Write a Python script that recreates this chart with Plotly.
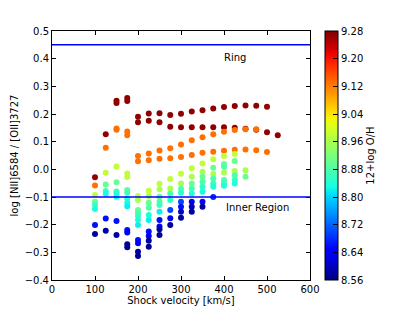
import numpy as np
import plotly.graph_objects as go

# ---- data: (shock velocity, log ratio, 12+log O/H) ----
velocity = (
    [100]*8 + [125]*8 + [150]*11 + [175]*15 + [200]*15 + [225]*14 + [250]*14 +
    [275]*11 + [300]*12 + [325]*12 + [350]*12 + [375]*11 + [400]*11 + [425]*10 +
    [450]*6 + [475]*4 + [500]*3 + [525]*1
)
log_ratio = [
    -0.029, -0.058, -0.093, -0.117, -0.129, -0.143, -0.201, -0.234,
    0.127, 0.078, -0.012, -0.055, -0.078, -0.088, -0.178, -0.222,
    0.248, 0.240, 0.148, 0.143, 0.010, -0.047, -0.080, -0.087, -0.099, -0.187, -0.237,
    0.258, 0.247, 0.137, 0.123, -0.015, -0.028, -0.075, -0.085, -0.105, -0.121, -0.133, -0.219, -0.228, -0.271, -0.282,
    0.190, 0.170, 0.048, 0.029, -0.096, -0.111, -0.147, -0.157, -0.169, -0.183, -0.201, -0.255, -0.267, -0.298, -0.313,
    0.202, 0.176, 0.057, 0.033, -0.077, -0.096, -0.121, -0.139, -0.165, -0.183, -0.225, -0.241, -0.258, -0.280,
    0.203, 0.170, 0.068, 0.038, -0.052, -0.072, -0.099, -0.117, -0.129, -0.153, -0.183, -0.207, -0.217, -0.237,
    0.196, 0.154, 0.076, 0.040, -0.035, -0.069, -0.087, -0.111, -0.147, -0.177, -0.201,
    0.201, 0.152, 0.090, 0.045, -0.016, -0.051, -0.070, -0.085, -0.117, -0.135, -0.153, -0.175,
    0.209, 0.152, 0.105, 0.052, 0.004, -0.027, -0.051, -0.069, -0.087, -0.117, -0.135, -0.153,
    0.214, 0.152, 0.116, 0.060, 0.021, -0.009, -0.027, -0.045, -0.063, -0.081, -0.117, -0.135,
    0.220, 0.152, 0.127, 0.064, 0.036, 0.006, -0.017, -0.033, -0.051, -0.063, -0.100,
    0.225, 0.152, 0.136, 0.067, 0.048, 0.019, 0.009, -0.011, -0.039, -0.051, -0.059,
    0.229, 0.150, 0.142, 0.071, 0.055, 0.030, -0.006, -0.021, -0.039, -0.051,
    0.231, 0.147, 0.145, 0.072, -0.003, -0.027,
    0.230, 0.143, 0.145, 0.069,
    0.226, 0.134, 0.063,
    0.123,
]
oh_abundance = [
    9.27, 9.13, 8.98, 8.90, 8.86, 8.83, 8.66, 8.58,
    9.27, 9.13, 8.98, 8.90, 8.86, 8.83, 8.66, 8.58,
    9.27, 9.27, 9.13, 9.13, 8.98, 8.90, 8.86, 8.85, 8.83, 8.66, 8.58,
    9.27, 9.27, 9.13, 9.13, 8.98, 8.98, 8.89, 8.87, 8.85, 8.83, 8.82, 8.66, 8.64, 8.58, 8.57,
    9.27, 9.27, 9.13, 9.13, 8.98, 8.96, 8.90, 8.88, 8.86, 8.84, 8.82, 8.66, 8.64, 8.58, 8.57,
    9.27, 9.27, 9.13, 9.13, 8.98, 8.96, 8.90, 8.88, 8.84, 8.82, 8.66, 8.64, 8.58, 8.57,
    9.27, 9.27, 9.13, 9.13, 8.98, 8.96, 8.90, 8.88, 8.86, 8.82, 8.66, 8.64, 8.58, 8.57,
    9.27, 9.27, 9.13, 9.13, 8.98, 8.96, 8.88, 8.85, 8.70, 8.64, 8.58,
    9.27, 9.27, 9.13, 9.13, 8.98, 8.96, 8.88, 8.85, 8.70, 8.66, 8.60, 8.58,
    9.27, 9.27, 9.13, 9.13, 8.98, 8.96, 8.90, 8.87, 8.84, 8.64, 8.60, 8.58,
    9.27, 9.27, 9.13, 9.13, 8.98, 8.96, 8.90, 8.88, 8.85, 8.83, 8.64, 8.58,
    9.27, 9.27, 9.13, 9.13, 8.98, 8.90, 8.96, 8.88, 8.86, 8.84, 8.68,
    9.27, 9.27, 9.13, 9.13, 8.98, 8.90, 8.88, 8.96, 8.88, 8.86, 8.84,
    9.27, 9.27, 9.13, 9.13, 8.98, 8.90, 8.96, 8.88, 8.86, 8.84,
    9.27, 9.27, 9.13, 9.13, 8.96, 8.90,
    9.27, 9.27, 9.13, 9.13,
    9.27, 9.27, 9.13,
    9.27,
]
ring_level = 0.45
inner_level = -0.1
x_ticks = [0, 100, 200, 300, 400, 500, 600]
y_ticks = [-0.4, -0.3, -0.2, -0.1, 0.0, 0.1, 0.2, 0.3, 0.4, 0.5]
cbar_ticks = [8.56, 8.64, 8.72, 8.80, 8.88, 8.96, 9.04, 9.12, 9.20, 9.28]

# ---- matplotlib "jet" colormap ----
def _seg(pts, t):
    xs = [p[0] for p in pts]
    ys = [p[1] for p in pts]
    return float(np.interp(t, xs, ys))

red = [(0, 0), (0.35, 0), (0.66, 1), (0.89, 1), (1, 0.5)]
green = [(0, 0), (0.125, 0), (0.375, 1), (0.64, 1), (0.91, 0), (1, 0)]
blue = [(0, 0.5), (0.11, 1), (0.34, 1), (0.65, 0), (1, 0)]
jet = []
for t in np.linspace(0, 1, 41):
    r, g, b = (_seg(red, t), _seg(green, t), _seg(blue, t))
    jet.append([float(t), f"rgb({int(round(r*255))},{int(round(g*255))},{int(round(b*255))})"])

FONT = "DejaVu Sans"

fig = go.Figure()
fig.add_trace(go.Scatter(
    x=velocity, y=log_ratio, mode="markers",
    marker=dict(
        size=6, color=oh_abundance, colorscale=jet, cmin=8.56, cmax=9.28,
        line=dict(width=0),
        colorbar=dict(
            thickness=13, len=1, lenmode="fraction", y=0.5, yanchor="middle",
            x=1.058, xanchor="left", xpad=0, ypad=0,
            outlinewidth=1, outlinecolor="black",
            tickvals=cbar_ticks, ticktext=[f"{v:.2f}" for v in cbar_ticks],
            ticks="inside", ticklen=5, tickcolor="black",
            tickfont=dict(family=FONT, size=10, color="black"),
            title=dict(text="12+log O/H", side="right",
                       font=dict(family=FONT, size=10, color="black")),
        ),
    ),
    showlegend=False, hoverinfo="skip",
))

for lvl in (ring_level, inner_level):
    fig.add_shape(type="line", x0=0, x1=600, y0=lvl, y1=lvl, xref="x", yref="y",
                  line=dict(color="rgb(0,0,255)", width=1.5), layer="above")

fig.add_annotation(x=425, y=0.405, text="Ring", showarrow=False,
                   font=dict(family=FONT, size=10, color="black"))
fig.add_annotation(x=478, y=-0.137, text="Inner Region", showarrow=False,
                   font=dict(family=FONT, size=10, color="black"))

axis_common = dict(
    showgrid=False, zeroline=False, showline=True, linecolor="black", linewidth=1,
    mirror="ticks", ticks="inside", ticklen=4, tickcolor="black",
    tickfont=dict(family=FONT, size=10, color="black"),
)
fig.update_xaxes(range=[0, 600], tickvals=x_ticks, ticktext=[str(v) for v in x_ticks],
                 title=dict(text="Shock velocity [km/s]", standoff=2,
                            font=dict(family=FONT, size=10, color="black")),
                 **axis_common)
fig.update_yaxes(range=[-0.4, 0.5], tickvals=y_ticks,
                 ticktext=[("\u2212" if v < 0 else "") + f"{abs(v):.1f}" for v in y_ticks],
                 title=dict(text="log [NII]6584 / [OII]3727", standoff=4,
                            font=dict(family=FONT, size=10, color="black")),
                 **axis_common)

# the page adds an 8 px body margin, so the figure is 8 px smaller and offset
fig.update_layout(
    width=407, height=304,
    margin=dict(l=44, r=105, t=23, b=32, autoexpand=False),
    paper_bgcolor="white", plot_bgcolor="white",
    font=dict(family=FONT, size=10, color="black"),
)
fig.write_html("out.html")
